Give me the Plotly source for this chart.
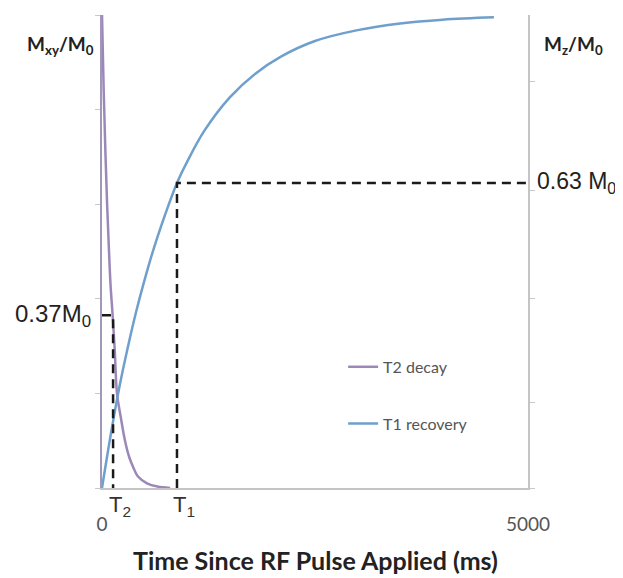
import plotly.graph_objects as go

# T2 decay (transverse magnetisation)
t2_time = [0, 20, 40, 60, 80, 100, 125, 150, 176, 220, 270, 320, 364, 420, 528, 650, 800]
t2_mxy = [1.0, 0.84, 0.71, 0.60, 0.51, 0.43, 0.365, 0.29, 0.20, 0.15, 0.10, 0.065, 0.045, 0.025, 0.01, 0.003, 0.0]

# T1 recovery (longitudinal magnetisation)
t1_time = [0, 100, 200, 300, 400, 500, 600, 700, 880, 1000, 1200, 1500, 1800, 2100, 2500, 3000, 3500, 4000, 4600]
t1_mz = [0, 0.11, 0.21, 0.295, 0.372, 0.44, 0.502, 0.557, 0.645, 0.69, 0.755, 0.826, 0.876, 0.912, 0.945, 0.968, 0.982, 0.99, 0.995]

# Marked time constants and levels
T2_ms = 130
T2_level = 0.365
T1_ms = 880
T1_level = 0.645

x_range = [0, 5000]
x_tick_vals = [0, 5000]
x_tick_text = ["0", "5000"]
left_ticks = [0, 0.2, 0.4, 0.6, 0.8, 1.0]
right_ticks = [0, 0.18, 0.40, 0.63, 0.86]

purple = "#9b88b8"
blue = "#6f9fcc"

fig = go.Figure()

fig.add_trace(go.Scatter(x=t2_time, y=t2_mxy, mode="lines", name="T2 decay",
                         line=dict(color=purple, width=2.5, shape="spline"),
                         legend="legend"))
fig.add_trace(go.Scatter(x=t1_time, y=t1_mz, mode="lines", name="T1 recovery",
                         line=dict(color=blue, width=2.5, shape="spline"),
                         legend="legend2"))

# dashed guide lines
fig.add_trace(go.Scatter(x=[0, T2_ms, T2_ms], y=[T2_level, T2_level, 0], mode="lines",
                         line=dict(color="#1a1a1a", width=2.5, dash="9px,6px"),
                         showlegend=False, hoverinfo="skip"))
fig.add_trace(go.Scatter(x=[T1_ms, T1_ms, x_range[1]], y=[0, T1_level, T1_level], mode="lines",
                         line=dict(color="#1a1a1a", width=2.5, dash="9px,6px"),
                         showlegend=False, hoverinfo="skip"))

# invisible trace to activate the right axis
fig.add_trace(go.Scatter(x=[0], y=[0], yaxis="y2", mode="markers",
                         marker=dict(opacity=0), showlegend=False, hoverinfo="skip"))

fig.update_layout(
    width=615, height=570,
    margin=dict(l=94, r=95, t=7, b=90),
    plot_bgcolor="white", paper_bgcolor="white",
    xaxis=dict(range=x_range, showgrid=False, zeroline=False, showline=True,
               linecolor="#c4c4c4", linewidth=2, ticks="",
               tickvals=x_tick_vals, ticktext=x_tick_text, ticklabelstandoff=18,
               tickfont=dict(family="Lato", size=19, color="#555555")),
    yaxis=dict(range=[0, 1], showgrid=False, zeroline=False, showline=True,
               linecolor="#a197b8", linewidth=2, ticks="outside", ticklen=5,
               tickcolor="#c8c8c8", tickvals=left_ticks, showticklabels=False),
    yaxis2=dict(range=[0, 1], overlaying="y", side="right", showgrid=False, zeroline=False,
                showline=True, linecolor="#c4c4c4", linewidth=2, ticks="outside", ticklen=5,
                tickcolor="#c8c8c8", tickvals=right_ticks, showticklabels=False),
    legend=dict(x=0.566, y=0.292, xanchor="left", yanchor="top",
                bgcolor="rgba(0,0,0,0)", font=dict(family="Lato", size=16, color="#555555")),
    legend2=dict(x=0.566, y=0.172, xanchor="left", yanchor="top",
                 bgcolor="rgba(0,0,0,0)", font=dict(family="Lato", size=16, color="#555555")),
)

annotations = [
    dict(text="0.37M<sub>0</sub>", xref="paper", yref="y", x=-0.02, y=T2_level,
         xanchor="right", yanchor="middle", showarrow=False,
         font=dict(family="Liberation Sans", size=24, color="#222222")),
    dict(text="0.63 M<sub>0</sub>", xref="paper", yref="y", x=1.016, y=T1_level,
         xanchor="left", yanchor="middle", showarrow=False,
         font=dict(family="Liberation Sans", size=23, color="#222222")),
    dict(text="T<sub>2</sub>", xref="x", yref="paper", x=T2_ms, y=-0.004, xshift=-6,
         xanchor="left", yanchor="top", showarrow=False,
         font=dict(family="Liberation Sans", size=22, color="#333333")),
    dict(text="T<sub>1</sub>", xref="x", yref="paper", x=T1_ms, y=-0.004, xshift=-6,
         xanchor="left", yanchor="top", showarrow=False,
         font=dict(family="Liberation Sans", size=22, color="#333333")),
    dict(text="<b>M<sub>xy</sub>/M<sub>0</sub></b>", xref="paper", yref="paper", x=-0.014, y=0.937,
         xanchor="right", yanchor="middle", showarrow=False,
         font=dict(family="Lato", size=19, color="#222222")),
    dict(text="<b>M<sub>z</sub>/M<sub>0</sub></b>", xref="paper", yref="paper", x=1.033, y=0.937,
         xanchor="left", yanchor="middle", showarrow=False,
         font=dict(family="Lato", size=19, color="#222222")),
    dict(text="<b>Time Since RF Pulse Applied (ms)</b>", xref="paper", yref="paper", x=0.502, y=-0.152,
         xanchor="center", yanchor="middle", showarrow=False,
         font=dict(family="Lato", size=25, color="#222222")),
]
fig.update_layout(annotations=annotations)

fig.write_html("out.html")
